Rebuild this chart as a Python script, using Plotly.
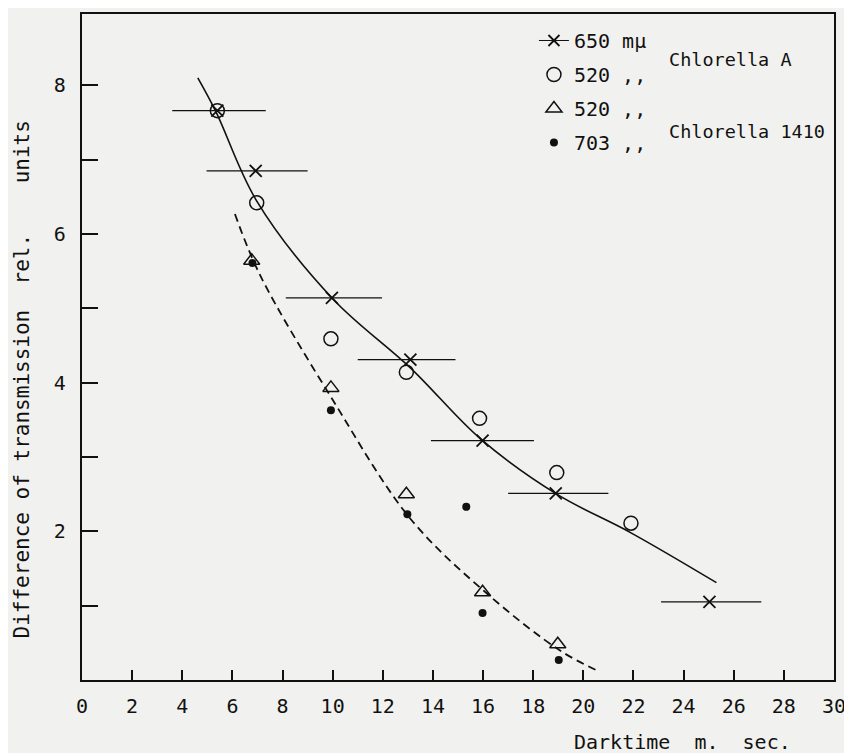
import plotly.graph_objects as go

# ---- data ----
x_650 = [5.4, 6.93, 9.97, 13.1, 15.98, 18.9, 25.03]
y_650 = [7.66, 6.85, 5.14, 4.31, 3.22, 2.51, 1.05]
err_plus_650 = [1.93, 2.07, 2.0, 1.8, 2.05, 2.1, 2.07]
err_minus_650 = [1.8, 1.96, 1.84, 2.1, 2.06, 1.9, 1.93]

x_520A = [5.4, 6.97, 9.93, 12.94, 15.86, 18.94, 21.9]
y_520A = [7.66, 6.42, 4.59, 4.14, 3.52, 2.79, 2.11]

x_520B = [6.77, 9.93, 12.94, 15.98, 18.98]
y_520B = [5.64, 3.93, 2.5, 1.18, 0.48]

x_703 = [6.8, 9.93, 12.98, 15.33, 15.98, 19.02]
y_703 = [5.61, 3.63, 2.23, 2.33, 0.9, 0.27]

# hand-drawn curves
curveA_x = [4.62, 5.35, 6.96, 10.0, 13.1, 15.91, 18.94, 21.9, 25.31]
curveA_y = [8.1, 7.64, 6.45, 5.13, 4.2, 3.24, 2.5, 1.98, 1.31]

curveB_x = [6.1, 7.1, 10.0, 13.1, 16.2, 19.1, 20.6]
curveB_y = [6.27, 5.45, 3.77, 2.17, 1.15, 0.39, 0.12]

x_ticks = list(range(0, 31, 2))
y_ticks = [1, 2, 3, 4, 5, 6, 7, 8]
y_ticktext = ["", "2", "", "4", "", "6", "", "8"]

legend_labels = ["650 m\u03bc", "520 ,,", "520 ,,", "703 ,,"]

FONT = "DejaVu Sans Mono"
BLACK = "#111111"
BG = "#f1f1ef"

fig = go.Figure()

# curves
fig.add_trace(go.Scatter(x=curveA_x, y=curveA_y, mode="lines",
                         line=dict(color=BLACK, width=1.6, shape="spline", smoothing=1.0),
                         showlegend=False, hoverinfo="skip"))
fig.add_trace(go.Scatter(x=curveB_x, y=curveB_y, mode="lines",
                         line=dict(color=BLACK, width=1.8, dash="8px,5px", shape="spline", smoothing=1.0),
                         showlegend=False, hoverinfo="skip"))

# 650 series with horizontal error bars
fig.add_trace(go.Scatter(x=x_650, y=y_650, mode="markers",
                         marker=dict(symbol="x-thin-open", size=12, color=BLACK, line=dict(color=BLACK, width=1.8)),
                         error_x=dict(type="data", symmetric=False, array=err_plus_650, arrayminus=err_minus_650,
                                      color=BLACK, thickness=1.3, width=0),
                         showlegend=False))
# legend entry for the 650 series (cross with a bar through it)
fig.add_trace(go.Scatter(x=[None], y=[None], mode="lines+markers", name=legend_labels[0], legendgroup="a",
                         marker=dict(symbol="x-thin-open", size=11, color=BLACK, line=dict(color=BLACK, width=1.8)),
                         line=dict(color=BLACK, width=1.0)))
fig.add_trace(go.Scatter(x=x_520A, y=y_520A, mode="markers", name=legend_labels[1], legendgroup="b",
                         marker=dict(symbol="circle-open", size=14, color=BLACK, line=dict(color=BLACK, width=1.5))))
fig.add_trace(go.Scatter(x=x_520B, y=y_520B, mode="markers", name=legend_labels[2], legendgroup="c",
                         marker=dict(symbol="triangle-up-open", size=14, color=BLACK, line=dict(color=BLACK, width=1.5))))
fig.add_trace(go.Scatter(x=x_703, y=y_703, mode="markers", name=legend_labels[3], legendgroup="d",
                         marker=dict(symbol="circle", size=8, color=BLACK)))

fig.update_layout(
    width=844, height=745,
    margin=dict(l=74, r=18, t=4, b=73),
    paper_bgcolor=BG, plot_bgcolor=BG,
    font=dict(family=FONT, size=18, color=BLACK),
    showlegend=True,
    legend=dict(x=0.601, y=0.9895, xanchor="left", yanchor="top", bgcolor="rgba(0,0,0,0)",
                font=dict(family=FONT, size=20, color=BLACK), tracegroupgap=5, traceorder="grouped"),
    xaxis=dict(range=[0, 30], tickvals=x_ticks, ticks="inside", ticklen=10, tickwidth=1.5, tickcolor=BLACK,
               showline=True, linewidth=2.2, linecolor=BLACK, mirror=True, showgrid=False, zeroline=False,
               tickfont=dict(family=FONT, size=20), ticklabelstandoff=7),
    yaxis=dict(range=[0, 8.96], tickvals=y_ticks, ticktext=y_ticktext, ticks="inside", ticklen=16, tickwidth=1.5,
               tickcolor=BLACK, showline=True, linewidth=2.2, linecolor=BLACK, mirror=True, showgrid=False,
               zeroline=False, tickfont=dict(family=FONT, size=20), ticklabelstandoff=10),
)

fig.add_annotation(text="Chlorella A", xref="paper", yref="paper", x=0.778, y=0.931,
                   showarrow=False, xanchor="left", yanchor="middle", font=dict(family=FONT, size=18.5))
fig.add_annotation(text="Chlorella 1410", xref="paper", yref="paper", x=0.778, y=0.823,
                   showarrow=False, xanchor="left", yanchor="middle", font=dict(family=FONT, size=18.5))
fig.add_annotation(text="Darktime  m.  sec.", xref="paper", yref="paper", x=0.946, y=-0.0925,
                   showarrow=False, xanchor="right", yanchor="middle", font=dict(family=FONT, size=20))
fig.add_annotation(text="Difference of transmission  rel.    units", xref="paper", yref="paper",
                   x=-0.080, y=0.451, textangle=-90, showarrow=False, xanchor="center", yanchor="middle",
                   font=dict(family=FONT, size=21))

fig.write_html("out.html")
